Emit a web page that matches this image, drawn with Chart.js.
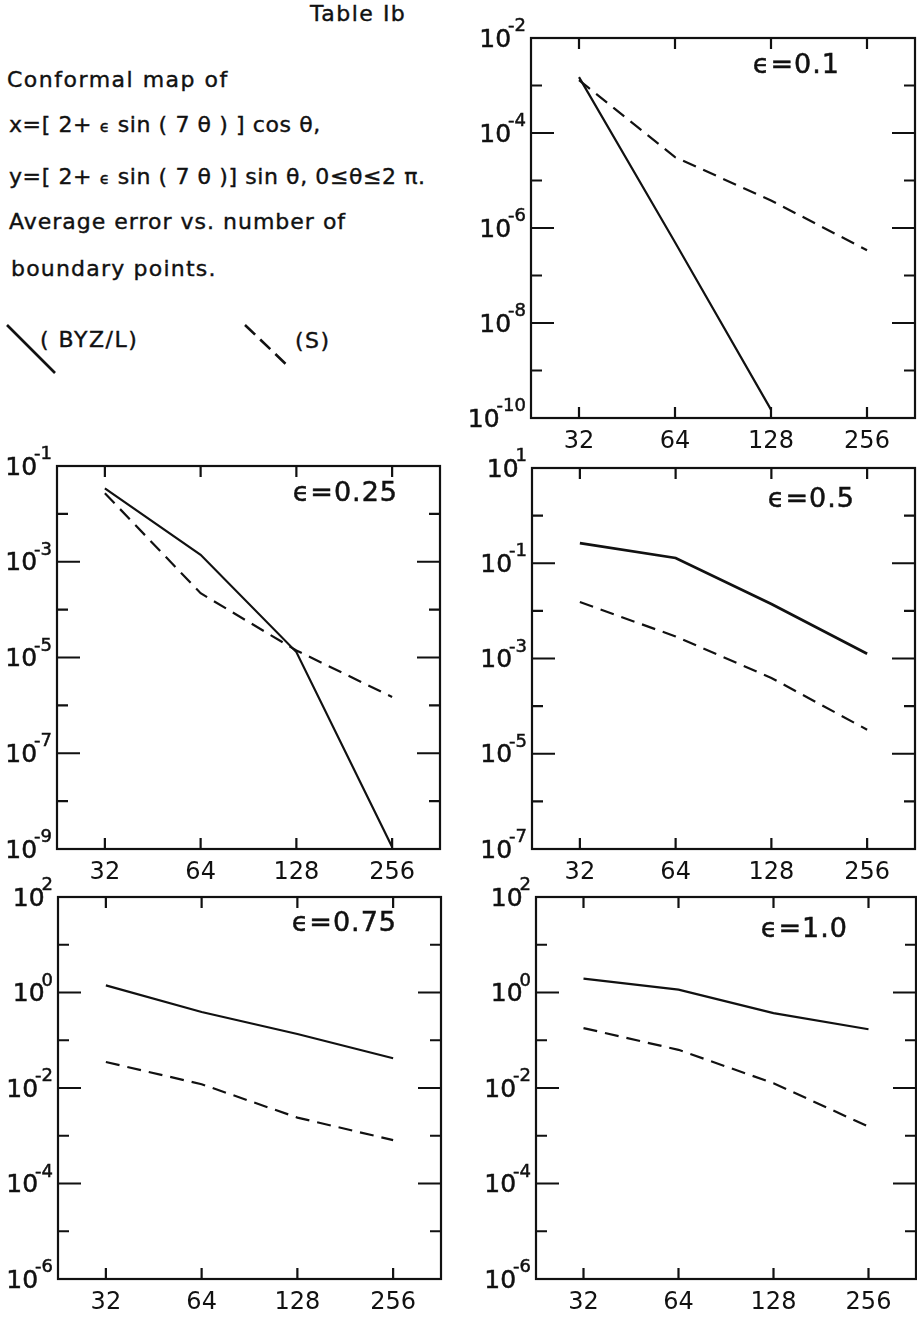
<!DOCTYPE html>
<html>
<head>
<meta charset="utf-8">
<title>Table Ib</title>
<script src="https://cdn.jsdelivr.net/npm/chart.js@4.4.1/dist/chart.umd.min.js"></script>
<style>
  html, body { margin: 0; padding: 0; background: #fff; overflow: hidden; }
  #page { position: relative; width: 917px; height: 1318px; font-family: "DejaVu Sans", sans-serif; color: #111; }
  .txt { position: absolute; font-size: 22px; line-height: 22px; letter-spacing: 1.5px; white-space: pre; -webkit-text-stroke: 0.4px #111; }
  .tight { letter-spacing: 0.6px; }
  .eps { font-size: 16px; }
  .panel { position: absolute; }
  #legendKeys { position: absolute; left: 0; top: 300px; }
</style>
</head>
<body>
<div id="page">
  <div class="txt" style="left:310px; top:3px;">Table Ib</div>
  <div class="txt" style="left:7px; top:69px;">Conformal map of</div>
  <div class="txt tight" style="left:9px; top:114px;">x=[ 2+ <span class="eps">ϵ</span> sin ( 7 θ ) ] cos θ,</div>
  <div class="txt tight" style="left:9px; top:166px;">y=[ 2+ <span class="eps">ϵ</span> sin ( 7 θ )] sin θ, 0≤θ≤2 π.</div>
  <div class="txt" style="left:9px; top:211px; letter-spacing:1px;">Average error vs. number of</div>
  <div class="txt" style="left:11px; top:258px; letter-spacing:1.2px;">boundary points.</div>
  <svg id="legendKeys" width="320" height="90">
    <line x1="7" y1="25" x2="55" y2="73" stroke="#111" stroke-width="2.6"/>
    <line x1="245" y1="25" x2="290" y2="68" stroke="#111" stroke-width="2.6" stroke-dasharray="14 7"/>
  </svg>
  <div class="txt" style="left:40px; top:329px;">( BYZ/L)</div>
  <div class="txt" style="left:295px; top:330px;">(S)</div>
</div>
<script>
// number of boundary points along x, same for every panel
const boundaryPoints = [32, 64, 128, 256];
const xTickLabels = ['32', '64', '128', '256'];
const epsilons = ['0.1', '0.25', '0.5', '0.75', '1.0'];

// average error, BYZ/L method (solid) and S method (dashed)
const byzErr01 = [1.5e-3, 5.0e-7, 1.5e-10];
const sErr01 = [1.3e-3, 3.1e-5, 3.8e-6, 3.4e-7];
const byzErr025 = [3.4e-2, 1.4e-3, 1.3e-5, 1.1e-9];
const sErr025 = [2.7e-2, 2.2e-4, 1.4e-5, 1.5e-6];
const byzErr05 = [0.265, 0.129, 0.014, 1.26e-3];
const sErr05 = [1.53e-2, 2.9e-3, 3.9e-4, 3.2e-5];
const byzErr075 = [1.41, 0.39, 0.135, 0.042];
const sErr075 = [0.035, 0.012, 2.4e-3, 8.1e-4];
const byzErr10 = [1.95, 1.15, 0.37, 0.17];
const sErr10 = [0.18, 0.063, 0.0126, 1.55e-3];

// y range of each panel in powers of ten
const decadeTop = [-2, -1, 1, 2, 2];
const decadeBottom = [-10, -9, -7, -6, -6];

const ink = '#111';
const fontFamily = '"DejaVu Sans", sans-serif';

// frame box in page pixels, plus where the epsilon label sits
const panels = [
  { box: [531, 38, 915, 418], byz: byzErr01, s: sErr01, labelRight: 75, labelDown: 28 },
  { box: [57, 466, 440, 849], byz: byzErr025, s: sErr025, labelRight: 42, labelDown: 28 },
  { box: [532, 468, 915, 849], byz: byzErr05, s: sErr05, labelRight: 60, labelDown: 32 },
  { box: [58, 897, 441, 1279], byz: byzErr075, s: sErr075, labelRight: 44, labelDown: 27 },
  { box: [536, 897, 916, 1279], byz: byzErr10, s: sErr10, labelRight: 68, labelDown: 33 }
];

const padLeft = 70, padTop = 36, axisHeight = 44;

function inkText(ctx, str, x, y) {
  ctx.fillText(str, x, y);
  ctx.strokeText(str, x, y);
}

// box, inward ticks on all four sides, 10^n labels and the epsilon tag
const frameTicks = {
  id: 'frameTicks',
  afterDraw(chart, args, opts) {
    const ctx = chart.ctx;
    const a = chart.chartArea;
    const x = chart.scales.x, y = chart.scales.y;
    ctx.save();
    ctx.strokeStyle = ink;
    ctx.fillStyle = ink;
    ctx.lineWidth = 2.2;
    ctx.strokeRect(a.left, a.top, a.right - a.left, a.bottom - a.top);

    ctx.beginPath();
    boundaryPoints.forEach(n => {
      const px = x.getPixelForValue(n);
      ctx.moveTo(px, a.bottom); ctx.lineTo(px, a.bottom - 11);
      ctx.moveTo(px, a.top); ctx.lineTo(px, a.top + 11);
    });
    for (let e = opts.hi; e >= opts.lo; e--) {
      const py = y.getPixelForValue(Math.pow(10, e));
      const len = (opts.hi - e) % 2 === 0 ? 23 : 11;
      ctx.moveTo(a.left, py); ctx.lineTo(a.left + len, py);
      ctx.moveTo(a.right, py); ctx.lineTo(a.right - len, py);
    }
    ctx.stroke();

    // every other decade carries a label
    ctx.lineWidth = 0.5;
    for (let e = opts.hi; e >= opts.lo; e -= 2) {
      const py = y.getPixelForValue(Math.pow(10, e));
      const exp = String(e);
      ctx.font = '18px ' + fontFamily;
      const expW = ctx.measureText(exp).width;
      const expLeft = a.left - 5 - expW;
      ctx.textAlign = 'left';
      ctx.textBaseline = 'alphabetic';
      inkText(ctx, exp, expLeft, py - 7);
      ctx.font = '25px ' + fontFamily;
      ctx.textAlign = 'right';
      ctx.textBaseline = 'middle';
      inkText(ctx, '10', expLeft + 3, py + 2);
    }

    ctx.font = '27px ' + fontFamily;
    if ('letterSpacing' in ctx) ctx.letterSpacing = '1px';
    ctx.textAlign = 'right';
    ctx.textBaseline = 'middle';
    inkText(ctx, 'ϵ=' + opts.eps, a.right - opts.labelRight, a.top + opts.labelDown);
    ctx.restore();
  }
};

function toPoints(values) {
  return values.map((v, i) => ({ x: boundaryPoints[i], y: v }));
}

function drawPanel(p, idx) {
  const [l, t, r, b] = p.box;
  const w = (r - l) + padLeft + 2;
  const h = (b - t) + padTop + axisHeight;

  const wrap = document.createElement('div');
  wrap.className = 'panel';
  wrap.style.left = (l - padLeft) + 'px';
  wrap.style.top = (t - padTop) + 'px';
  const canvas = document.createElement('canvas');
  canvas.width = w;
  canvas.height = h;
  wrap.appendChild(canvas);
  document.getElementById('page').appendChild(wrap);

  new Chart(canvas.getContext('2d'), {
    type: 'line',
    data: {
      datasets: [
        {
          label: '(BYZ/L)',
          data: toPoints(p.byz),
          borderColor: ink,
          borderWidth: idx === 2 ? 2.8 : 2.2,
          pointRadius: 0,
          tension: 0,
          fill: false
        },
        {
          label: '(S)',
          data: toPoints(p.s),
          borderColor: ink,
          borderWidth: 2.2,
          borderDash: [14, 8],
          pointRadius: 0,
          tension: 0,
          fill: false
        }
      ]
    },
    options: {
      responsive: false,
      animation: false,
      layout: { padding: { left: padLeft, top: padTop, right: 2, bottom: 0 } },
      plugins: {
        legend: { display: false },
        tooltip: { enabled: false },
        frameTicks: {
          hi: decadeTop[idx],
          lo: decadeBottom[idx],
          eps: epsilons[idx],
          labelRight: p.labelRight,
          labelDown: p.labelDown
        }
      },
      scales: {
        x: {
          type: 'logarithmic',
          // half a doubling of room either side of 32 and 256
          min: 32 / Math.SQRT2,
          max: 256 * Math.SQRT2,
          afterBuildTicks: scale => { scale.ticks = boundaryPoints.map(v => ({ value: v })); },
          afterFit: scale => { scale.height = axisHeight; },
          grid: { display: false, drawTicks: false },
          border: { display: false },
          ticks: {
            autoSkip: false,
            maxRotation: 0,
            padding: 9,
            color: ink,
            font: { family: fontFamily, size: 24 },
            callback: (v, i) => xTickLabels[i]
          }
        },
        y: {
          type: 'logarithmic',
          display: false,
          min: Math.pow(10, decadeBottom[idx]),
          max: Math.pow(10, decadeTop[idx])
        }
      }
    },
    plugins: [frameTicks]
  });
}

panels.forEach(drawPanel);
</script>
</body>
</html>
